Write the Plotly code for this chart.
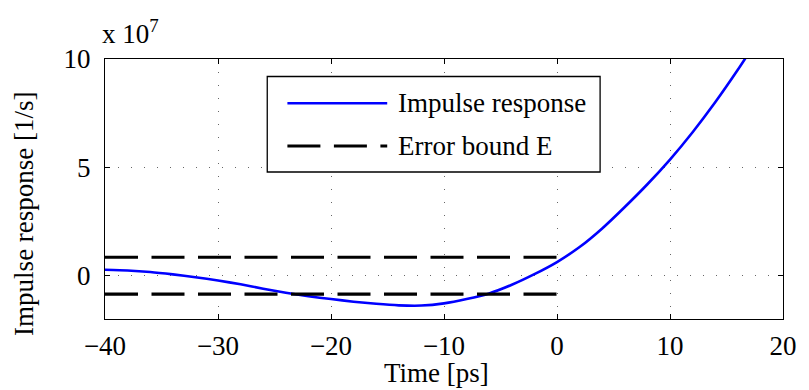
import plotly.graph_objects as go

# ---- data (impulse response in units of 1e7 1/s) ----
time_ps = [-40, -38, -36, -34, -32, -30, -28, -26, -24, -22, -20, -18, -16, -14, -12,
           -10, -8, -6, -4, -2, 0, 2, 4, 6, 8, 10, 12, 14, 16, 18]
impulse_e7 = [0.27, 0.24, 0.17, 0.06, -0.07, -0.22, -0.40, -0.60, -0.79, -0.95, -1.08,
              -1.20, -1.30, -1.37, -1.38, -1.28, -1.08, -0.82, -0.42, 0.07,
              0.63, 1.32, 2.18, 3.17, 4.22, 5.36, 6.62, 8.00, 9.50, 11.10]
bound_time = [-40, 0]
error_bound_e7 = 0.85
SCALE = 1e7

x_ticks = [-40, -30, -20, -10, 0, 10, 20]
y_ticks = [0, 5, 10]

W, H = 809, 390
L, R, T, B = 104.5, 15, 59, 71
pw, ph = W - L - R, H - T - B

def px(x):
    return (x - L) / pw

def py(y):
    return (H - B - y) / ph

FONT = "'Liberation Serif', 'Times New Roman', Times, 'DejaVu Serif', serif"
FS = 27
fig = go.Figure()

fig.add_trace(go.Scatter(
    x=time_ps, y=[v * SCALE for v in impulse_e7], mode="lines",
    line=dict(color="#0000ff", width=2.6, shape="spline", smoothing=0.6),
    name="Impulse response", showlegend=False))

bx, by = [], []
for s in (1, -1):
    bx += bound_time + [None]
    by += [s * error_bound_e7 * SCALE] * 2 + [None]
fig.add_trace(go.Scatter(
    x=bx, y=by, mode="lines",
    line=dict(color="black", width=3.2, dash="33px,13.5px"),
    name="Error bound E", showlegend=False, connectgaps=False))

axis_common = dict(
    showline=True, linecolor="black", linewidth=1.2, mirror="ticks",
    ticks="inside", ticklen=5, tickcolor="black", tickwidth=1,
    showgrid=True, gridcolor="rgba(0,0,0,0.6)", gridwidth=1,
    griddash="1px,12px", zeroline=False,
    tickfont=dict(family=FONT, size=FS, color="black"),
)

fig.update_xaxes(range=[-40, 20], tickvals=x_ticks,
                 ticktext=[("\u2212" + str(-t)) if t < 0 else str(t) for t in x_ticks],
                 ticklabelstandoff=2, **axis_common)
fig.update_yaxes(range=[-2 * SCALE, 10 * SCALE],
                 tickvals=[t * SCALE for t in y_ticks],
                 ticktext=[str(t) for t in y_ticks],
                 ticklabelstandoff=8, **axis_common)

# manual legend (MATLAB style)
shapes = [
    dict(type="rect", xref="paper", yref="paper",
         x0=px(269.5), x1=px(608), y0=py(172), y1=py(76.5),
         line=dict(color="black", width=1.3), fillcolor="white", layer="above"),
    dict(type="line", xref="paper", yref="paper",
         x0=px(290), x1=px(391.5), y0=py(103.3), y1=py(103.3),
         line=dict(color="#0000ff", width=2.6), layer="above"),
    dict(type="line", xref="paper", yref="paper",
         x0=px(290), x1=px(391.5), y0=py(146), y1=py(146),
         line=dict(color="black", width=3.2, dash="33px,13.5px"), layer="above"),
]

annotations = [
    dict(text="Impulse response", xref="paper", yref="paper", x=px(400), y=py(103.3),
         xanchor="left", yanchor="middle", showarrow=False,
         font=dict(family=FONT, size=FS, color="black")),
    dict(text="Error bound E", xref="paper", yref="paper", x=px(400), y=py(146),
         xanchor="left", yanchor="middle", showarrow=False,
         font=dict(family=FONT, size=FS, color="black")),
    dict(text="Time [ps]", xref="paper", yref="paper", x=px(442), y=py(373),
         xanchor="center", yanchor="middle", showarrow=False,
         font=dict(family=FONT, size=FS, color="black")),
    dict(text="Impulse response [1/s]", xref="paper", yref="paper", x=px(22), y=py(214),
         xanchor="center", yanchor="middle", textangle=-90, showarrow=False,
         font=dict(family=FONT, size=FS, color="black")),
    dict(text="x 10<sup>7</sup>", xref="paper", yref="paper", x=px(99), y=py(51),
         xanchor="left", yanchor="bottom", showarrow=False,
         font=dict(family=FONT, size=FS, color="black")),
]

fig.update_layout(
    width=W, height=H, autosize=False,
    margin=dict(l=L, r=R, t=T, b=B, pad=0),
    paper_bgcolor="white", plot_bgcolor="white",
    font=dict(family=FONT, size=FS, color="black"),
    shapes=shapes, annotations=annotations, showlegend=False,
)

fig.write_html("out.html")
